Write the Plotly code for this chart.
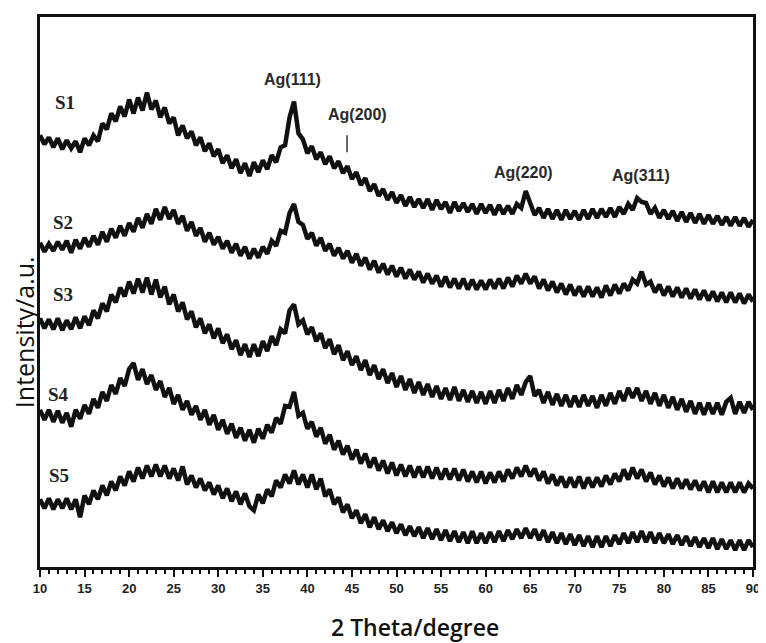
import plotly.graph_objects as go

# 2-theta sampling grid (degrees)
two_theta = [
    10.0, 10.5, 11.0, 11.5, 12.0, 12.5, 13.0, 13.5, 14.0, 14.5,
    15.0, 15.5, 16.0, 16.5, 17.0, 17.5, 18.0, 18.5, 19.0, 19.5,
    20.0, 20.5, 21.0, 21.5, 22.0, 22.5, 23.0, 23.5, 24.0, 24.5,
    25.0, 25.5, 26.0, 26.5, 27.0, 27.5, 28.0, 28.5, 29.0, 29.5,
    30.0, 30.5, 31.0, 31.5, 32.0, 32.5, 33.0, 33.5, 34.0, 34.5,
    35.0, 35.5, 36.0, 36.5, 37.0, 37.5, 38.0, 38.5, 39.0, 39.5,
    40.0, 40.5, 41.0, 41.5, 42.0, 42.5, 43.0, 43.5, 44.0, 44.5,
    45.0, 45.5, 46.0, 46.5, 47.0, 47.5, 48.0, 48.5, 49.0, 49.5,
    50.0, 50.5, 51.0, 51.5, 52.0, 52.5, 53.0, 53.5, 54.0, 54.5,
    55.0, 55.5, 56.0, 56.5, 57.0, 57.5, 58.0, 58.5, 59.0, 59.5,
    60.0, 60.5, 61.0, 61.5, 62.0, 62.5, 63.0, 63.5, 64.0, 64.5,
    65.0, 65.5, 66.0, 66.5, 67.0, 67.5, 68.0, 68.5, 69.0, 69.5,
    70.0, 70.5, 71.0, 71.5, 72.0, 72.5, 73.0, 73.5, 74.0, 74.5,
    75.0, 75.5, 76.0, 76.5, 77.0, 77.5, 78.0, 78.5, 79.0, 79.5,
    80.0, 80.5, 81.0, 81.5, 82.0, 82.5, 83.0, 83.5, 84.0, 84.5,
    85.0, 85.5, 86.0, 86.5, 87.0, 87.5, 88.0, 88.5, 89.0, 89.5,
    90.0,
]

# Intensities (a.u., vertically offset patterns)
s1 = [
    434, 425, 432, 422, 431, 420, 429, 421, 428, 417,
    431, 424, 434, 428, 446, 440, 456, 448, 463, 453,
    470, 456, 472, 459, 477, 460, 469, 452, 462, 446,
    452, 434, 444, 431, 438, 424, 432, 418, 426, 413,
    420, 406, 414, 401, 410, 396, 406, 393, 407, 397,
    409, 400, 414, 407, 422, 424, 452, 468, 436, 430,
    416, 423, 410, 417, 405, 413, 401, 408, 396, 403,
    390, 397, 384, 391, 378, 385, 373, 380, 369, 377,
    366, 374, 363, 372, 362, 370, 361, 370, 359, 369,
    360, 367, 356, 367, 358, 366, 357, 365, 355, 365,
    356, 364, 354, 364, 355, 363, 355, 365, 361, 378,
    366, 354, 361, 351, 360, 350, 359, 349, 359, 350,
    358, 349, 359, 350, 360, 351, 360, 352, 361, 352,
    362, 355, 365, 359, 371, 367, 366, 355, 361, 351,
    359, 350, 358, 348, 357, 347, 356, 346, 355, 345,
    354, 345, 353, 344, 352, 343, 352, 343, 351, 342,
    349,
]
s2 = [
    326, 317, 325, 318, 327, 319, 328, 316, 329, 320,
    331, 322, 333, 324, 337, 327, 340, 331, 343, 333,
    346, 337, 351, 341, 355, 345, 360, 349, 362, 350,
    359, 345, 353, 338, 347, 333, 341, 327, 336, 324,
    332, 320, 328, 316, 325, 313, 322, 310, 320, 311,
    322, 315, 328, 323, 338, 336, 356, 365, 347, 344,
    330, 336, 323, 331, 318, 325, 313, 321, 310, 318,
    306, 315, 303, 311, 299, 308, 296, 305, 294, 303,
    292, 301, 290, 299, 289, 297, 286, 295, 285, 293,
    282, 292, 281, 290, 280, 290, 279, 289, 279, 288,
    279, 289, 280, 290, 280, 291, 282, 293, 285, 295,
    285, 292, 280, 289, 278, 287, 276, 285, 274, 284,
    273, 282, 272, 282, 272, 281, 271, 283, 273, 284,
    275, 285, 278, 289, 285, 297, 284, 287, 276, 284,
    273, 282, 272, 281, 271, 280, 270, 279, 269, 278,
    268, 277, 267, 276, 266, 276, 266, 275, 265, 274,
    267,
]
s3 = [
    250, 240, 249, 239, 250, 238, 248, 239, 251, 240,
    252, 243, 258, 250, 265, 257, 274, 266, 281, 272,
    287, 275, 290, 276, 291, 274, 289, 271, 282, 264,
    274, 257, 266, 249, 257, 241, 250, 235, 244, 230,
    240, 225, 234, 219, 228, 213, 224, 211, 224, 212,
    227, 217, 232, 223, 239, 235, 258, 264, 244, 248,
    234, 241, 227, 235, 220, 229, 214, 223, 208, 217,
    203, 212, 198, 208, 193, 203, 189, 199, 185, 195,
    181, 192, 178, 189, 175, 186, 173, 184, 171, 182,
    169, 180, 168, 181, 167, 178, 166, 177, 165, 176,
    164, 177, 165, 178, 167, 180, 169, 183, 173, 186,
    192, 172, 178, 165, 176, 163, 174, 162, 173, 161,
    172, 161, 173, 162, 172, 160, 173, 162, 175, 164,
    177, 167, 180, 170, 180, 167, 177, 164, 175, 162,
    173, 160, 171, 158, 169, 156, 167, 154, 165, 153,
    165, 154, 165, 153, 166, 170, 154, 166, 155, 166,
    158,
]
s4 = [
    158, 148, 158, 146, 157, 145, 155, 141, 158, 149,
    163, 154, 169, 160, 176, 167, 183, 174, 190, 182,
    199, 205, 188, 199, 184, 193, 178, 187, 171, 180,
    164, 173, 158, 167, 153, 162, 148, 158, 143, 153,
    138, 148, 134, 144, 130, 140, 127, 138, 125, 139,
    129, 143, 135, 150, 144, 162, 161, 176, 152, 155,
    139, 146, 131, 140, 124, 133, 118, 127, 113, 122,
    108, 118, 104, 114, 100, 110, 97, 107, 94, 105,
    92, 103, 91, 102, 90, 101, 90, 101, 89, 100,
    88, 99, 88, 99, 87, 98, 86, 96, 85, 96,
    84, 95, 85, 96, 86, 98, 89, 100, 91, 102,
    91, 99, 87, 96, 84, 93, 82, 91, 80, 90,
    80, 91, 79, 90, 80, 90, 81, 92, 83, 94,
    86, 98, 88, 100, 89, 98, 86, 95, 83, 92,
    81, 90, 79, 89, 79, 88, 78, 87, 77, 86,
    75, 86, 75, 85, 75, 85, 75, 85, 75, 84,
    79,
]
s5 = [
    68, 59, 69, 58, 68, 59, 69, 58, 68, 50,
    72, 63, 77, 68, 82, 72, 86, 77, 91, 82,
    96, 86, 100, 89, 102, 91, 103, 91, 102, 89,
    99, 87, 101, 83, 92, 80, 89, 77, 85, 73,
    82, 69, 79, 66, 76, 63, 74, 61, 57, 73,
    64, 78, 71, 87, 80, 93, 84, 97, 83, 93,
    80, 93, 78, 89, 71, 78, 63, 70, 55, 63,
    49, 57, 44, 53, 40, 50, 38, 47, 36, 45,
    34, 43, 32, 41, 31, 40, 29, 39, 28, 38,
    27, 37, 26, 36, 25, 35, 24, 36, 24, 34,
    24, 35, 25, 36, 26, 37, 28, 38, 29, 39,
    29, 38, 27, 37, 25, 35, 24, 34, 23, 33,
    22, 32, 21, 31, 20, 31, 20, 31, 21, 32,
    23, 34, 24, 35, 25, 36, 25, 35, 24, 34,
    24, 33, 23, 32, 22, 31, 21, 30, 20, 29,
    19, 29, 18, 28, 18, 27, 17, 27, 17, 27,
    20,
]

series_names = ["S1", "S2", "S3", "S4", "S5"]
series_values = [s1, s2, s3, s4, s5]

# sample label positions (2theta, intensity)
label_x = [12.8, 12.6, 12.6, 12.1, 12.1]
label_y = [467, 346, 274, 173, 92]

# peak labels
peak_names = ["Ag(111)", "Ag(200)", "Ag(220)", "Ag(311)"]
peak_x = [38.3, 45.6, 64.25, 77.45]
peak_y = [490, 455, 397, 394]

x_ticks = [10, 15, 20, 25, 30, 35, 40, 45, 50, 55, 60, 65, 70, 75, 80, 85, 90]

fig = go.Figure()
for name, vals in zip(series_names, series_values):
    fig.add_trace(go.Scatter(
        x=two_theta, y=vals, mode="lines", name=name,
        line=dict(color="#111111", width=4.5),
        showlegend=False, hoverinfo="skip",
    ))

annotations = []
for name, lx, ly in zip(series_names, label_x, label_y):
    annotations.append(dict(
        x=lx, y=ly, xref="x", yref="y", text=name, showarrow=False,
        font=dict(family="Liberation Serif", size=19, color="#222222", weight="bold"),
        xanchor="center", yanchor="middle",
    ))
for name, px, py in zip(peak_names, peak_x, peak_y):
    annotations.append(dict(
        x=px, y=py, xref="x", yref="y", text=name, showarrow=False,
        font=dict(family="Liberation Sans", size=16, color="#2a2a2a", weight="bold"),
        xanchor="center", yanchor="middle",
    ))
# axis titles
annotations.append(dict(
    x=0.526, y=-0.1085, xref="paper", yref="paper", text="2 Theta/degree",
    showarrow=False, xanchor="center", yanchor="middle",
    font=dict(family="Open Sans", size=23, color="#111111", weight=600),
))
annotations.append(dict(
    x=-0.0224, y=0.427, xref="paper", yref="paper", text="Intensity/a.u.",
    showarrow=False, xanchor="center", yanchor="middle", textangle=-90,
    font=dict(family="Open Sans", size=25, color="#111111", weight=500),
))

# the page body adds an 8px offset, so the figure is sized to fit inside the window
fig.update_layout(
    width=758, height=635,
    margin=dict(l=32, r=11, t=6, b=76),
    paper_bgcolor="white", plot_bgcolor="white",
    annotations=annotations,
    shapes=[dict(type="line", xref="x", yref="y", x0=44.45, x1=44.45, y0=417, y1=434,
                 line=dict(color="#333333", width=1.5))],
)
fig.update_xaxes(
    range=[10, 90], tickvals=x_ticks, ticktext=[str(t) for t in x_ticks],
    ticks="outside", ticklen=7, tickwidth=2, tickcolor="#111111",
    minor=dict(dtick=1, ticks="outside", ticklen=4, tickwidth=1.5, tickcolor="#111111"),
    showline=True, linecolor="#111111", linewidth=3, mirror=True,
    showgrid=False, zeroline=False,
    tickfont=dict(family="Liberation Sans", size=13, color="#222222", weight="bold"),
)
fig.update_yaxes(
    range=[0, 553], showticklabels=False, ticks="",
    showline=True, linecolor="#111111", linewidth=3, mirror=True,
    showgrid=False, zeroline=False,
)

fig.write_html("out.html")
